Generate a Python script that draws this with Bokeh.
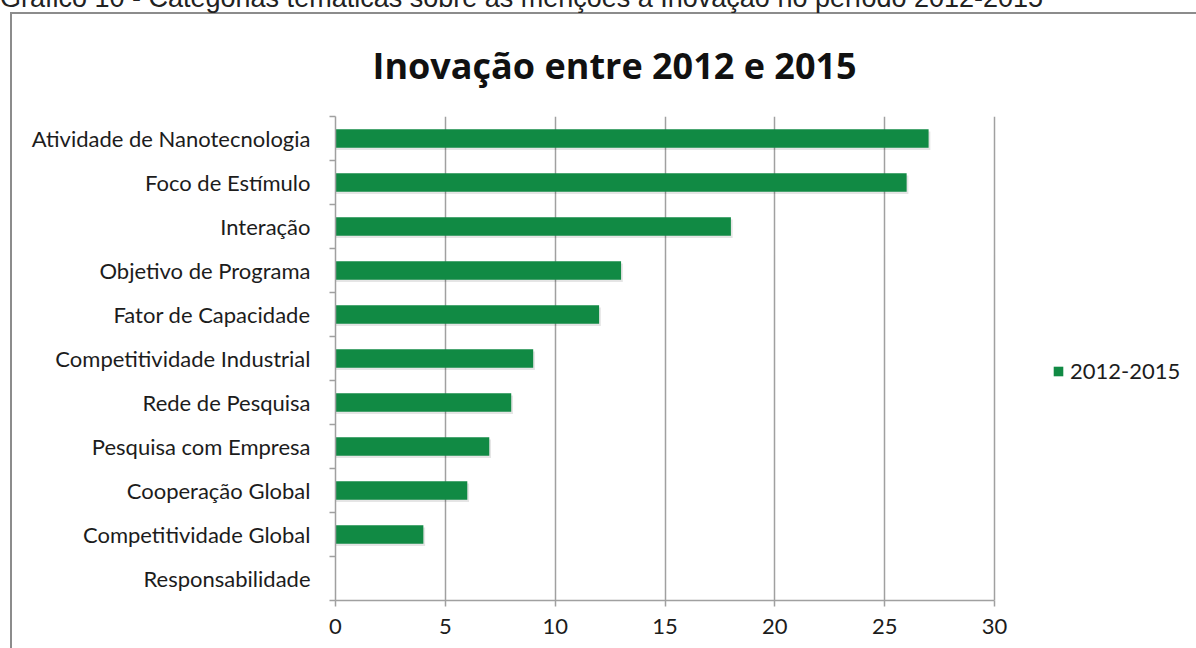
from bokeh.plotting import figure
from bokeh.models import FixedTicker, Legend, LegendItem, ColumnDataSource, InlineStyleSheet
from bokeh.embed import file_html
from bokeh.resources import INLINE

caption_text = "Gráfico 10 - Categorias temáticas sobre as menções à Inovação no período 2012-2015"
title_text = "Inovação entre 2012 e 2015"
series_name = "2012-2015"
categories = [
    "Atividade de Nanotecnologia",
    "Foco de Estímulo",
    "Interação",
    "Objetivo de Programa",
    "Fator de Capacidade",
    "Competitividade Industrial",
    "Rede de Pesquisa",
    "Pesquisa com Empresa",
    "Cooperação Global",
    "Competitividade Global",
    "Responsabilidade",
]
values = [27, 26, 18, 13, 12, 9, 8, 7, 6, 4, 0]
x_ticks = [0, 5, 10, 15, 20, 25, 30]

n = len(categories)
ypos = [n - 1 - i for i in range(n)]
src = ColumnDataSource(dict(
    y=ypos, v=values, name=categories,
    sy=[y - 0.05 for y in ypos],
    sv=[v + 0.08 if v > 0 else 0 for v in values],
))

# layout in pixels: frame from x=335 (value 0) to x=994 (value 30), extended to the canvas edge
W, H = 1196, 648
FRAME_L, AX30, FRAME_T, FRAME_B = 335, 994, 116, 600
x_max = x_ticks[-1]
x_end = x_max * (W - FRAME_L) / (AX30 - FRAME_L)

p = figure(width=W, height=H, output_backend="svg", toolbar_location=None,
           x_range=(0, x_end), y_range=(-0.5, n - 0.5),
           min_border_left=FRAME_L, min_border_right=0, min_border_top=FRAME_T,
           min_border_bottom=H - FRAME_B)
p.outline_line_color = None
p.background_fill_color = "white"
p.border_fill_color = "white"

GREEN = "#118A44"
GRID = "#a0a0a0"
FONT = "Lato"
FS = "22px"
TXT = "#1c1c1c"

# soft shadow beneath bars
p.hbar(y="sy", right="sv", left=0, height=0.42, source=src,
       fill_color="#000000", fill_alpha=0.10, line_color=None)
r = p.hbar(y="y", right="v", left=0, height=0.42, source=src, fill_color=GREEN, line_color=None)

# title
p.title.text = title_text
p.title.align = "left"
p.title.offset = 37
p.title.text_font = "Open Sans"
p.title.text_font_style = "bold"
p.title.text_font_size = "36px"
p.title.text_color = "#111111"
p.title.standoff = 54

# x axis
p.xaxis.ticker = FixedTicker(ticks=x_ticks)
p.xaxis.bounds = (0, x_max)
p.xaxis.axis_line_color = GRID
p.xaxis.axis_line_width = 1.5
p.xaxis.major_tick_line_color = GRID
p.xaxis.major_tick_line_width = 1.5
p.xaxis.major_tick_out = 6
p.xaxis.major_tick_in = 0
p.xaxis.minor_tick_line_color = None
p.xaxis.major_label_text_font = FONT
p.xaxis.major_label_text_font_size = FS
p.xaxis.major_label_text_color = TXT
p.xaxis.major_label_standoff = 12

# y axis
p.yaxis.ticker = FixedTicker(ticks=ypos, minor_ticks=[k - 0.5 for k in range(n + 1)])
p.yaxis.major_label_overrides = {y: c for y, c in zip(ypos, categories)}
p.yaxis.axis_line_color = GRID
p.yaxis.axis_line_width = 1.5
p.yaxis.major_tick_line_color = None
p.yaxis.major_tick_out = 0
p.yaxis.major_tick_in = 0
p.yaxis.minor_tick_line_color = GRID
p.yaxis.minor_tick_line_width = 1.5
p.yaxis.minor_tick_out = 6
p.yaxis.minor_tick_in = 0
p.yaxis.major_label_text_font = FONT
p.yaxis.major_label_text_font_size = FS
p.yaxis.major_label_text_color = TXT
p.yaxis.major_label_standoff = 19

p.xgrid.ticker = FixedTicker(ticks=x_ticks)
p.xgrid.grid_line_color = GRID
p.xgrid.grid_line_width = 1.5
p.ygrid.grid_line_color = None

legend = Legend(items=[LegendItem(label=series_name, renderers=[r])],
                location=(1052 - FRAME_L, 216), border_line_color=None, background_fill_alpha=0,
                padding=0, margin=0, glyph_width=12, glyph_height=12, label_standoff=6,
                label_text_font=FONT, label_text_font_size=FS, label_text_color=TXT)
p.add_layout(legend)

# outer grey chart border and the (cropped) document caption above it
p.stylesheets = [InlineStyleSheet(css="""
:host::after {
  content: "";
  position: absolute;
  left: 10px; top: 12px; right: 0px; bottom: 0px;
  border-top: 2px solid #8c8c8c;
  border-left: 2px solid #8c8c8c;
  pointer-events: none;
}
:host::before {
  content: "%s";
  position: absolute;
  left: 0px; top: -21px;
  font-family: "Liberation Sans", Arial, sans-serif;
  font-size: 27px;
  color: #222222;
  white-space: nowrap;
  z-index: 5;
  pointer-events: none;
}
""" % caption_text)]

open("out.html", "w").write(file_html(p, INLINE))
